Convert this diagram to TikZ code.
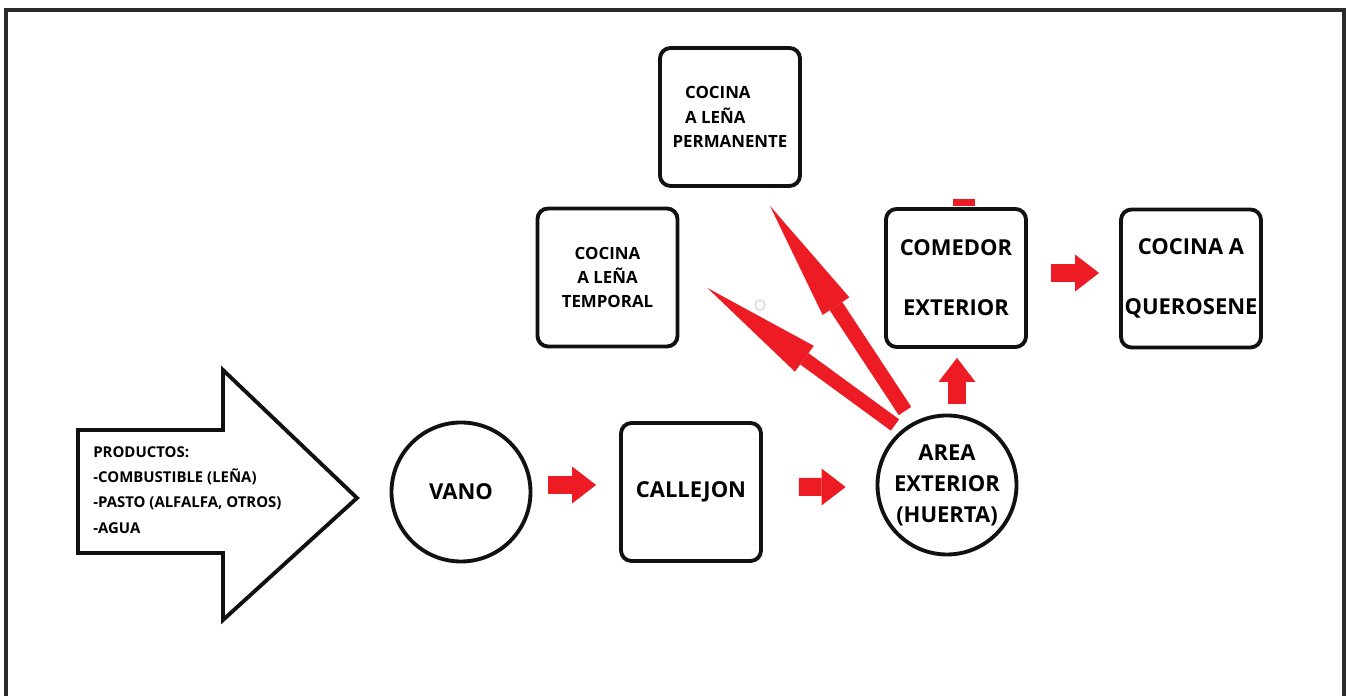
\documentclass[tikz,border=0pt]{standalone}
\usepackage{fontspec}
\setmainfont{Open Sans}
\usepackage{xcolor}
\definecolor{arrc}{HTML}{ED1C24}
\definecolor{linec}{HTML}{111111}
\definecolor{framec}{HTML}{2A2A2A}
\usetikzlibrary{arrows.meta,positioning,calc}
\tikzset{
  box/.style={draw=linec,line width=2.2pt,fill=white,rounded corners=6pt,minimum width=2.8cm,minimum height=2.76cm,inner sep=1pt,align=center,font=\bfseries\fontsize{12.5}{34}\selectfont},
  sbox/.style={box,font=\bfseries\fontsize{9.6}{13.9}\selectfont},
  ring/.style={draw=linec,line width=2.2pt,fill=white,circle,minimum size=2.78cm,inner sep=0pt,align=center,font=\bfseries\fontsize{12.5}{17.6}\selectfont},
  prodtxt/.style={align=left,inner sep=0pt,font=\bfseries\fontsize{8.5}{14.4}\selectfont},
  redarr/.style={draw=arrc,line width=0.36cm,-{Triangle[length=0.48cm,width=0.74cm,line width=0pt]}},
  longarr/.style={draw=arrc,line width=0.3cm,-{Triangle[length=2.4cm,width=0.64cm,line width=0pt]}},
}

\begin{document}
\begin{tikzpicture}
  \useasboundingbox (0,0) rectangle (26.92,13.92);
  \draw[framec,line width=2pt] (0.12,-0.1) -- (0.12,13.72) -- (26.88,13.72) -- (26.88,-0.1);
  % entrada de productos
  \draw[linec,line width=2.2pt,line join=miter,fill=white] (1.56,5.32) -- (4.46,5.32) -- (4.46,6.52) -- (7.14,3.96)
    -- (4.46,1.52) -- (4.46,2.86) -- (1.56,2.86) -- cycle;
  \node[prodtxt,anchor=west] (prod) at (1.86,4.12) {PRODUCTOS:\\-COMBUSTIBLE (LEÑA)\\-PASTO (ALFALFA, OTROS)\\-AGUA};
  % recorrido
  \node[ring] (vano) at (9.22,4.08) {VANO};
  \node[box] (callejon) at (13.82,4.08) {CALLEJON};
  \node[ring] (area) at (18.94,4.22) {AREA\\EXTERIOR\\(HUERTA)};
  \node[box] (comedor) at (19.12,8.36) {COMEDOR\\EXTERIOR};
  \node[box] (querosene) at (23.82,8.35) {COCINA A\\QUEROSENE};
  \node[sbox] (temporal) at (12.15,8.37) {COCINA\\A LEÑA\\TEMPORAL};
  \node[sbox,align=left] (permanente) at (14.6,11.58) {\hspace*{0.25cm}COCINA\\\hspace*{0.25cm}A LEÑA\\PERMANENTE};
  \fill[arrc] (19.06,9.8) rectangle (19.5,9.93);
  \draw[gray!35,line width=0.6pt] (15.2,7.82) circle (0.1);
  % flechas
  \draw[redarr] ([shift={(0.32,0.14)}]vano.east) -- ([shift={(-0.46,0.14)}]callejon.west);
  \draw[redarr] ([shift={(0.72,0.10)}]callejon.east) -- ([shift={(-0.6,-0.04)}]area.west);
  \draw[redarr] ([shift={(0.2,0.2)}]area.north) -- ([shift={(0.02,-0.18)}]comedor.south);
  \draw[redarr] ([shift={(0.46,0.10)}]comedor.east) -- ([shift={(-0.40,0.11)}]querosene.west);
  \draw[longarr] ([shift={(-0.84,1.48)}]area.center) -- ([shift={(0.8,-0.36)}]permanente.south);
  \draw[longarr,line width=0.28cm] ([shift={(-1.04,1.2)}]area.center) -- ([shift={(0.56,-0.21)}]temporal.east);
\end{tikzpicture}
\end{document}
